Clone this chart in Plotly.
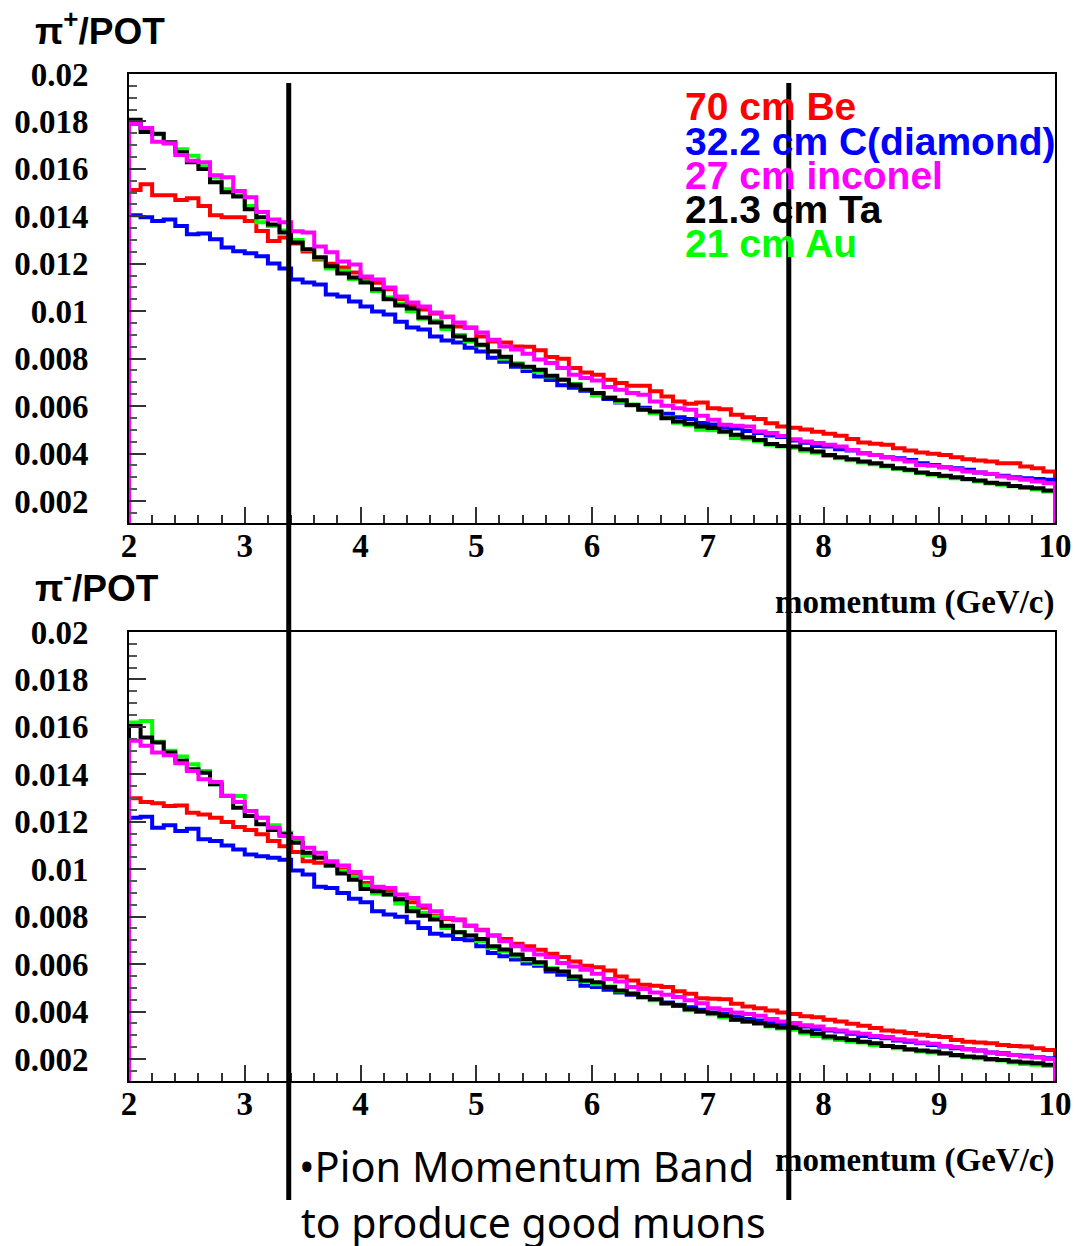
import numpy as np
import plotly.graph_objects as go

# ---------------- data (units of 1e-5 pions / POT per 0.1 GeV/c bin) ----------------
UNIT = 1e-5
bin_edges = [round(2.0 + 0.1 * i, 1) for i in range(80)]  # left edges 2.0 ... 9.9
x_max = 10.0

series_names = ["70 cm Be", "32.2 cm C(diamond)", "27 cm inconel", "21.3 cm Ta", "21 cm Au"]
series_colors = ["#ff0000", "#0000ff", "#ff00ff", "#000000", "#00ff00"]

pip_be = [1511, 1535, 1489, 1489, 1469, 1476, 1444, 1404, 1396, 1396,
          1380, 1338, 1296, 1311, 1285, 1252, 1218, 1200, 1184, 1163,
          1134, 1120, 1092, 1050, 1024, 1007, 990, 977, 935, 930,
          893, 872, 868, 851, 850, 835, 807, 799, 760, 742,
          732, 711, 697, 686, 686, 662, 640, 619, 610, 615,
          591, 587, 563, 553, 545, 528, 514, 509, 501, 492,
          483, 475, 461, 446, 441, 437, 422, 413, 404, 399,
          394, 384, 376, 370, 366, 359, 359, 345, 338, 324]
pip_c = [1404, 1396, 1380, 1387, 1359, 1324, 1328, 1303, 1269, 1253,
         1244, 1232, 1201, 1180, 1134, 1121, 1113, 1070, 1062, 1041,
         1020, 999, 986, 956, 931, 923, 893, 876, 868, 846,
         830, 804, 787, 766, 748, 725, 710, 688, 677, 665,
         650, 630, 615, 603, 593, 573, 568, 553, 545, 529,
         522, 510, 505, 495, 486, 476, 470, 455, 445, 432,
         430, 418, 413, 401, 394, 384, 380, 373, 359, 352,
         342, 338, 331, 320, 314, 306, 300, 296, 292, 289]
pip_inconel = [1789, 1772, 1714, 1708, 1659, 1634, 1628, 1573, 1565, 1507,
               1480, 1418, 1387, 1375, 1337, 1332, 1273, 1248, 1210, 1197,
               1146, 1134, 1100, 1062, 1037, 1020, 994, 977, 952, 931,
               910, 880, 851, 838, 821, 796, 782, 760, 732, 718,
               708, 680, 669, 655, 648, 619, 601, 591, 584, 559,
               542, 521, 517, 514, 493, 486, 474, 460, 451, 444,
               437, 430, 415, 401, 394, 384, 376, 366, 352, 348,
               342, 334, 324, 320, 314, 303, 296, 289, 282, 275]
pip_ta = [1807, 1755, 1748, 1712, 1670, 1628, 1599, 1544, 1501, 1484,
          1430, 1396, 1366, 1332, 1290, 1261, 1227, 1189, 1159, 1142,
          1121, 1092, 1050, 1024, 1011, 973, 952, 935, 893, 880,
          859, 830, 808, 775, 766, 753, 728, 711, 690, 669,
          655, 634, 624, 605, 584, 577, 549, 535, 525, 514,
          507, 493, 479, 469, 457, 440, 432, 429, 418, 408,
          394, 384, 376, 366, 359, 348, 338, 331, 320, 314,
          306, 300, 292, 286, 277, 272, 263, 258, 254, 244]
pip_au = [1800, 1772, 1746, 1707, 1683, 1655, 1611, 1565, 1514, 1489,
          1444, 1375, 1359, 1340, 1300, 1258, 1222, 1180, 1170, 1136,
          1125, 1085, 1058, 1030, 1000, 968, 960, 925, 900, 872,
          855, 832, 800, 780, 760, 745, 725, 712, 693, 668,
          645, 638, 617, 607, 585, 570, 552, 530, 520, 500,
          498, 490, 465, 462, 452, 437, 430, 424, 412, 403,
          390, 380, 372, 362, 355, 345, 336, 328, 318, 310,
          303, 296, 290, 282, 274, 268, 262, 255, 248, 240]

pim_be = [1299, 1283, 1278, 1266, 1269, 1238, 1231, 1217, 1199, 1178,
          1165, 1147, 1119, 1097, 1072, 1034, 1027, 1016, 999, 973,
          942, 914, 911, 875, 861, 837, 804, 790, 788, 762,
          745, 720, 706, 686, 675, 660, 644, 630, 611, 593,
          587, 573, 548, 531, 513, 509, 503, 485, 475, 456,
          454, 452, 433, 421, 414, 404, 396, 390, 380, 376,
          365, 358, 348, 340, 330, 320, 316, 309, 302, 297,
          292, 280, 273, 269, 266, 259, 255, 252, 245, 238]
pim_c = [1217, 1221, 1175, 1185, 1161, 1171, 1126, 1119, 1100, 1083,
         1062, 1055, 1048, 1040, 995, 978, 926, 921, 900, 875,
         861, 823, 809, 799, 776, 752, 728, 720, 706, 700,
         675, 647, 633, 619, 602, 593, 569, 555, 537, 509,
         503, 492, 480, 471, 461, 450, 438, 428, 418, 407,
         396, 390, 379, 368, 362, 351, 348, 342, 337, 325,
         320, 316, 306, 297, 292, 287, 278, 273, 266, 259,
         252, 245, 241, 236, 227, 224, 217, 213, 207, 203]
pim_inconel = [1541, 1520, 1492, 1480, 1447, 1414, 1379, 1368, 1309, 1283,
               1245, 1217, 1175, 1140, 1132, 1090, 1069, 1034, 1016, 988,
               964, 926, 921, 893, 879, 847, 823, 794, 785, 762,
               743, 720, 696, 675, 660, 640, 630, 604, 590, 576,
               559, 537, 527, 503, 495, 480, 471, 461, 447, 435,
               414, 407, 396, 390, 382, 368, 358, 352, 342, 337,
               325, 320, 311, 306, 297, 292, 283, 278, 269, 264,
               255, 250, 241, 236, 227, 221, 217, 210, 207, 200]
pim_ta = [1604, 1555, 1534, 1492, 1457, 1421, 1407, 1358, 1309, 1259,
          1224, 1189, 1165, 1147, 1111, 1069, 1048, 1016, 982, 956,
          917, 907, 893, 872, 823, 804, 788, 762, 734, 720,
          706, 675, 661, 640, 621, 608, 579, 569, 548, 531,
          523, 503, 489, 475, 461, 452, 435, 424, 410, 400,
          393, 382, 365, 358, 351, 340, 333, 330, 316, 306,
          295, 287, 280, 273, 266, 255, 250, 241, 236, 231,
          224, 217, 210, 207, 200, 196, 189, 185, 182, 175]
pim_au = [1618, 1625, 1537, 1499, 1475, 1442, 1414, 1358, 1311, 1309,
          1245, 1217, 1185, 1154, 1118, 1058, 1052, 1020, 992, 968,
          931, 897, 893, 855, 837, 816, 799, 752, 734, 720,
          696, 668, 654, 633, 615, 600, 582, 568, 543, 527,
          515, 505, 485, 478, 458, 447, 432, 423, 405, 398,
          388, 376, 365, 357, 348, 337, 328, 323, 308, 297,
          287, 280, 273, 269, 259, 255, 245, 238, 231, 227,
          221, 213, 207, 203, 196, 193, 185, 179, 175, 170]

pip_series = [pip_be, pip_c, pip_inconel, pip_ta, pip_au]
pim_series = [pim_be, pim_c, pim_inconel, pim_ta, pim_au]

band_edges = [3.38, 7.70]  # pion momentum band (GeV/c)

# ---------------- figure ----------------
W, H = 1075, 1246
def px_x(p):
    return p / W
def px_y(p):
    return 1 - p / H

fig = go.Figure()
draw_order = [0, 1, 4, 3, 2]  # Be, C, Au, Ta, inconel on top

def add_hist(vals, color, xa, ya):
    xs = [bin_edges[0]] + bin_edges + [x_max, x_max]
    ys = [0] + [v * UNIT for v in vals] + [vals[-1] * UNIT, 0]
    fig.add_trace(go.Scatter(x=xs, y=ys, mode="lines", line=dict(color=color, width=4, shape="hv"),
                             xaxis=xa, yaxis=ya, showlegend=False, hoverinfo="skip"))

for i in draw_order:
    add_hist(pip_series[i], series_colors[i], "x", "y")
for i in draw_order:
    add_hist(pim_series[i], series_colors[i], "x2", "y2")

tick_font = dict(family="Liberation Serif", size=33, color="black", weight="bold")

xdom = [px_x(129), px_x(1055)]
top_dom = [px_y(523), px_y(74)]
bot_dom = [px_y(1081), px_y(632)]
y_range = [0.00107, 0.02]

def xaxis_cfg(anchor):
    return dict(domain=xdom, range=[2, 10], anchor=anchor, dtick=1, tick0=0, automargin=False,
                ticks="inside", ticklen=16, tickwidth=1.5, tickcolor="#333",
                minor=dict(dtick=0.2, ticks="inside", ticklen=8, tickwidth=1.5, tickcolor="#333"),
                showline=True, linecolor="black", linewidth=2, mirror=True,
                showgrid=False, zeroline=False, tickfont=tick_font, ticklabelstandoff=-8)

def yaxis_cfg(anchor, dom):
    return dict(domain=dom, range=y_range, anchor=anchor, dtick=0.002, tick0=0, automargin=False,
                ticks="inside", ticklen=17, tickwidth=1.5, tickcolor="#333",
                minor=dict(dtick=0.0005, ticks="inside", ticklen=8, tickwidth=1.5, tickcolor="#555"),
                showline=True, linecolor="black", linewidth=2, mirror=True,
                showgrid=False, zeroline=False, tickfont=tick_font, ticklabelstandoff=32)

annotations = []
label_font = dict(family="Liberation Sans", size=37, color="black", weight="bold")
annotations.append(dict(text="π<sup>+</sup>/POT", x=px_x(33), y=px_y(28), xref="paper", yref="paper",
                        xanchor="left", yanchor="middle", showarrow=False, font=label_font))
annotations.append(dict(text="π<sup>-</sup>/POT", x=px_x(33), y=px_y(585), xref="paper", yref="paper",
                        xanchor="left", yanchor="middle", showarrow=False, font=label_font))
for yc in [602, 1160]:
    annotations.append(dict(text="momentum (GeV/c)", x=px_x(1057), y=px_y(yc), xref="paper", yref="paper",
                            xanchor="right", yanchor="middle", showarrow=False,
                            font=dict(family="Liberation Serif", size=33, color="black", weight="bold")))
for k, (name, col) in enumerate(zip(series_names, series_colors)):
    annotations.append(dict(text=name, x=px_x(683), y=px_y(107 + 34 * k), xref="paper", yref="paper",
                            xanchor="left", yanchor="middle", showarrow=False,
                            font=dict(family="Liberation Sans", size=39, color=col, weight="bold")))
annotations.append(dict(text="•Pion Momentum Band", x=px_x(297), y=px_y(1166), xref="paper", yref="paper",
                        xanchor="left", yanchor="middle", showarrow=False,
                        font=dict(family="Noto Sans", size=41.5, color="black")))
annotations.append(dict(text="to produce good muons", x=px_x(299), y=px_y(1222), xref="paper", yref="paper",
                        xanchor="left", yanchor="middle", showarrow=False,
                        font=dict(family="Noto Sans", size=41, color="black")))

shapes = []
for b in band_edges:
    shapes.append(dict(type="line", xref="x", yref="paper", x0=b, x1=b,
                       y0=px_y(1200), y1=px_y(83), line=dict(color="black", width=5)))

fig.update_layout(
    template="none",
    width=W, height=H, margin=dict(l=0, r=0, t=0, b=0, autoexpand=False),
    paper_bgcolor="white", plot_bgcolor="white",
    xaxis=xaxis_cfg("y"), yaxis=yaxis_cfg("x", top_dom),
    xaxis2=xaxis_cfg("y2"), yaxis2=yaxis_cfg("x2", bot_dom),
    annotations=annotations, shapes=shapes, showlegend=False,
)

fig.write_html("out.html")
